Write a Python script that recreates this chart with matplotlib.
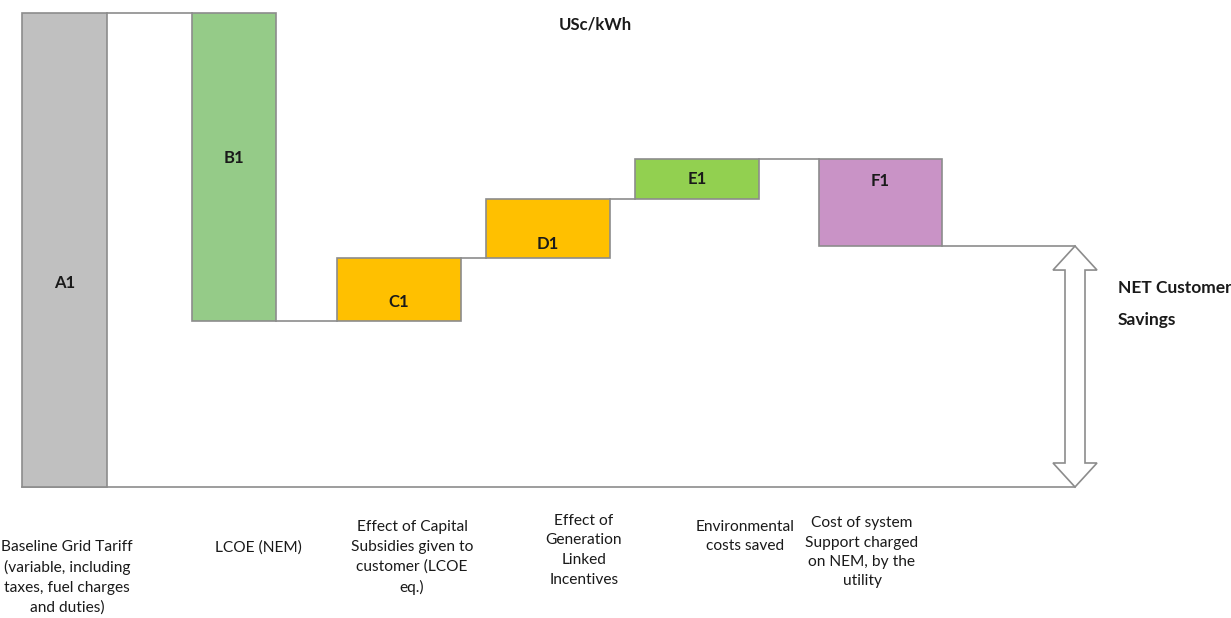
import matplotlib
matplotlib.use("Agg")
import matplotlib.pyplot as plt
from matplotlib.patches import Polygon
from matplotlib import font_manager

W, H = 1231, 618
PX = 19.75          # pixels per unit on the vertical scale
Y0 = 487            # pixel row of the zero line

# waterfall steps (arbitrary USc/kWh units)
codes = ["A1", "B1", "C1", "D1", "E1", "F1"]
steps = [24.0, -15.6, 3.2, 3.0, 2.0, -4.4]
categories = [
    "Baseline Grid Tariff\n(variable, including\ntaxes, fuel charges\nand duties)",
    "LCOE (NEM)",
    "Effect of Capital\nSubsidies given to\ncustomer (LCOE\neq.)",
    "Effect of\nGeneration\nLinked\nIncentives",
    "Environmental\ncosts saved",
    "Cost of system\nSupport charged\non NEM, by the\nutility",
]

colors = ["#c0c0c0", "#95cb88", "#ffc000", "#ffc000", "#92d050", "#c993c6"]
edge = "#8c8c8c"
x_left = [22, 192, 337, 486, 635, 819]
widths = [85, 84, 124, 124, 124, 123]
label_frac = [0.43, 0.53, 0.30, 0.23, 0.50, 0.75]
cat_pos = [(67, 540), (258, 540), (412, 520), (584, 514), (745, 520), (862, 516)]
arrow_x = 1075

names = {f.name for f in font_manager.fontManager.ttflist}
narrow = [f for f in ["Liberation Sans Narrow", "Lato", "DejaVu Sans"] if f in names]
bold = [f for f in ["Lato", "DejaVu Sans"] if f in names]

fig = plt.figure(figsize=(W / 100, H / 100), dpi=100)
ax = fig.add_axes([0, 0, 1, 1])
ax.set_xlim(0, W)
ax.set_ylim(-(H - Y0) / PX, Y0 / PX)
ax.axis("off")

# bars and connectors
level = 0.0
prev_right = None
for i, s in enumerate(steps):
    lo, hi = (level, level + s) if s > 0 else (level + s, level)
    ax.bar(x_left[i], hi - lo, width=widths[i], bottom=lo, align="edge",
           color=colors[i], edgecolor=edge, linewidth=1.2, zorder=2)
    ax.text(x_left[i] + widths[i] / 2, lo + label_frac[i] * (hi - lo), codes[i],
            ha="center", va="center", fontsize=12, fontweight="bold",
            family=bold, color="#1a1a1a", zorder=3)
    if prev_right is not None:
        ax.plot([prev_right, x_left[i]], [level, level], color=edge, lw=1.2, zorder=1)
    level += s
    prev_right = x_left[i] + widths[i]
net = level

# final connector and zero line
ax.plot([prev_right, arrow_x], [net, net], color=edge, lw=1.2, zorder=1)
ax.plot([x_left[0], arrow_x], [0, 0], color=edge, lw=1.2, zorder=1)

# hollow double-headed arrow for net savings
hw, sw, hl = 22, 10, 24 / PX
arrow = Polygon([
    (arrow_x, net), (arrow_x + hw, net - hl), (arrow_x + sw, net - hl),
    (arrow_x + sw, hl), (arrow_x + hw, hl), (arrow_x, 0),
    (arrow_x - hw, hl), (arrow_x - sw, hl), (arrow_x - sw, net - hl),
    (arrow_x - hw, net - hl)], closed=True,
    facecolor="white", edgecolor=edge, linewidth=1.2, zorder=3)
ax.add_patch(arrow)

fig.text(1118 / W, 1 - 304 / H, "NET Customer\nSavings", ha="left", va="center",
         fontsize=12.5, fontweight="bold", family=bold, linespacing=2.2,
         color="#1a1a1a")
fig.text(595 / W, 1 - 25 / H, "USc/kWh", ha="center", va="center",
         fontsize=12, fontweight="bold", family=bold, color="#1a1a1a")

for (cx, cy), lab in zip(cat_pos, categories):
    fig.text(cx / W, 1 - cy / H, lab, ha="center", va="top", fontsize=11.2,
             family=narrow, linespacing=1.5, color="#1a1a1a")

fig.savefig("out.png", dpi=100, facecolor="white")
